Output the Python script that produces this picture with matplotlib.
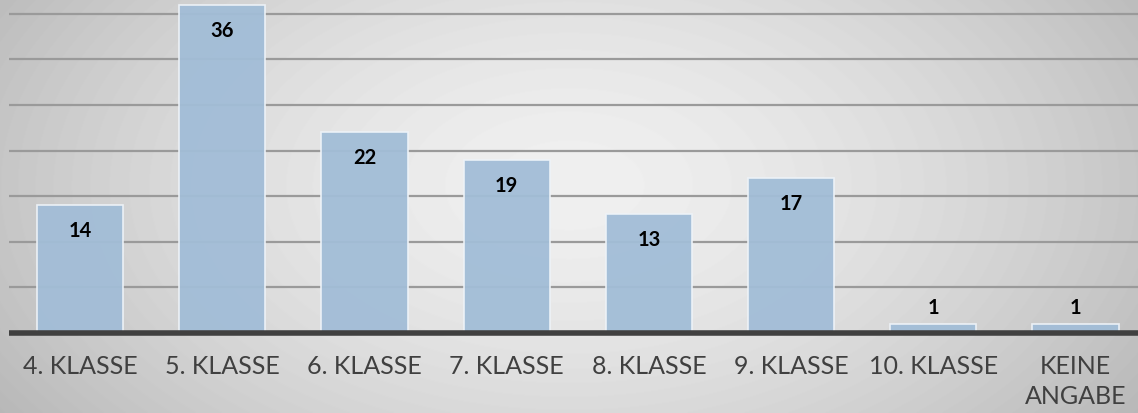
import numpy as np
import matplotlib
matplotlib.use('agg')
import matplotlib.pyplot as plt

## data
categories = ["4. KLASSE", "5. KLASSE", "6. KLASSE", "7. KLASSE",
              "8. KLASSE", "9. KLASSE", "10. KLASSE", "KEINE\nANGABE"]
counts = [14, 36, 22, 19, 13, 17, 1, 1]

W, H = 1138, 414
fig = plt.figure(figsize=(W/100, H/100), dpi=100)

# radial grey background
bg = fig.add_axes([0, 0, 1, 1])
yy, xx = np.mgrid[0:H, 0:W]
r = np.sqrt(((xx - W*0.5)/(W*0.55))**2 + ((yy - H*0.45)/(H*0.9))**2)
shade = np.clip(0.94 - 0.19*r**1.6, 0, 1)
bg.imshow(shade, cmap='gray', vmin=0, vmax=1, aspect='auto', extent=[0, 1, 0, 1])
bg.axis('off')

# plot area: 0 at y=334px, left edge at x=9px
px_per_unit = 9.12
ax = fig.add_axes([9/W, (H-334)/H, 1-9/W, 334/H])
ax.patch.set_alpha(0)
x = np.arange(len(categories))
ax.set_xlim(-0.5, -0.5 + (W-9)/142.2)
ax.set_ylim(0, 334/px_per_unit)

for g in range(5, 40, 5):
    ax.axhline(g, color='#9a9a9a', lw=1.6, zorder=1)

bars = ax.bar(x, counts, width=0.605, color='#A2BDD7', edgecolor='#eef3f8',
              linewidth=1.2, alpha=0.95, zorder=2)
ax.axhline(0, color='#404040', lw=4, zorder=3, clip_on=False, solid_capstyle='butt')

for xi, v in zip(x, counts):
    off = -18 if v >= 5 else 12
    ax.annotate(str(v), (xi, v), xytext=(0, off), textcoords='offset points',
                ha='center', va='center', fontsize=14.5, fontweight='bold',
                color='black', family='Lato', zorder=4)

ax.set_xticks(x)
ax.set_xticklabels(categories, fontsize=18, color='#404040', family='Lato',
                   linespacing=1.4, va='top')
ax.tick_params(axis='x', length=0, pad=15)
ax.set_yticks([])
for s in ax.spines.values():
    s.set_visible(False)

plt.savefig('out.png', dpi=100)
